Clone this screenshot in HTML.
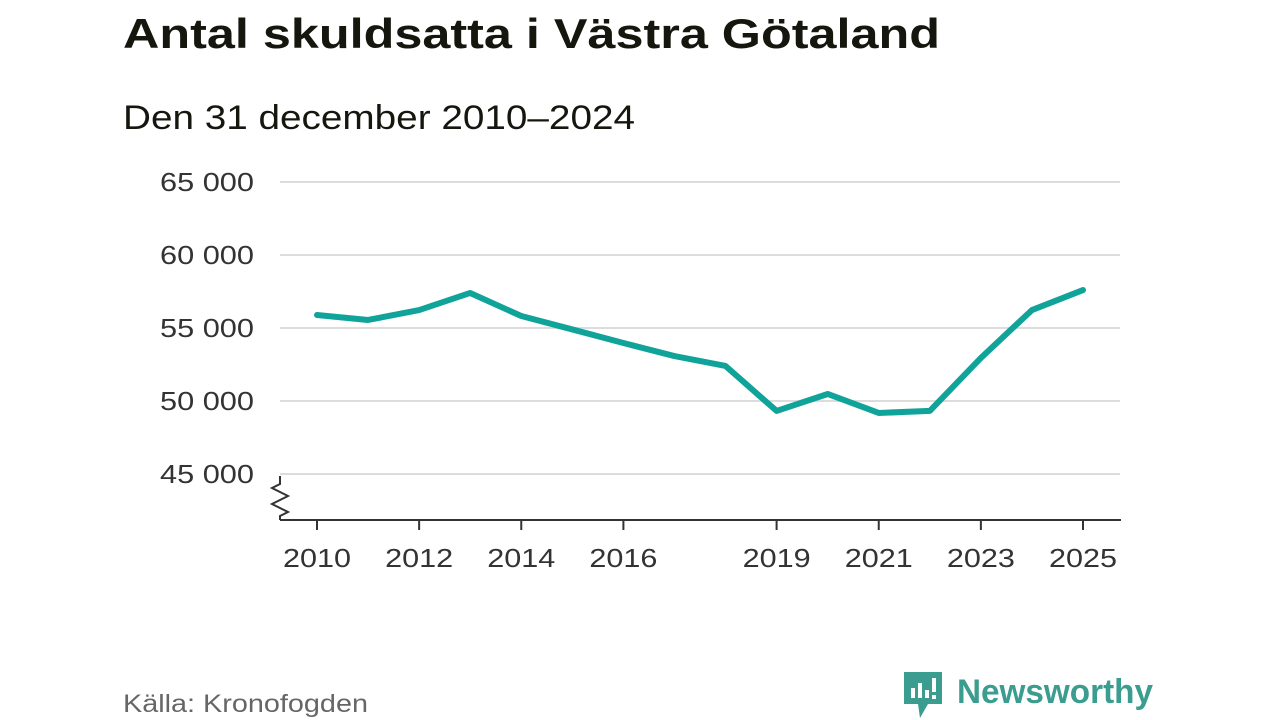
<!DOCTYPE html>
<html><head><meta charset="utf-8">
<style>
html,body{margin:0;padding:0;background:#fff;width:1280px;height:720px;overflow:hidden;font-family:"Liberation Sans","DejaVu Sans",sans-serif;}
</style></head>
<body>
<svg id="chart" width="1280" height="720" viewBox="0 0 1280 720" xmlns="http://www.w3.org/2000/svg">
<text x="123" y="48" font-size="42" font-weight="bold" fill="#15170f" textLength="817" lengthAdjust="spacingAndGlyphs">Antal skuldsatta i Västra Götaland</text>
<text x="123" y="129" font-size="34" fill="#15170f" textLength="512" lengthAdjust="spacingAndGlyphs">Den 31 december 2010–2024</text>
<g id="grid"></g>
<g id="xaxis"></g>
<path d="M280,476 L280,484 L272,488 L288,496 L272,504 L288,512 L280,516 L280,520" fill="none" stroke="#333" stroke-width="2"/>
<path id="line" fill="none" stroke="#10a39a" stroke-width="6" stroke-linejoin="round" stroke-linecap="round"/>
<text x="123" y="712" font-size="25" fill="#666" textLength="245" lengthAdjust="spacingAndGlyphs">Källa: Kronofogden</text>
<g>
<path d="M904,672 h38 v32 h-14 l-8,14 l-2,-14 h-14 z" fill="#3a9d8f"/>
<rect x="911" y="688" width="4" height="10" fill="#fff"/>
<rect x="918" y="683" width="4" height="15" fill="#fff"/>
<rect x="925" y="690" width="4" height="8" fill="#fff"/>
<rect x="932" y="678" width="4" height="14" fill="#fff"/>
<rect x="932" y="695" width="4" height="4" fill="#fff"/>
<text x="957" y="703" font-size="34" font-weight="bold" fill="#3a9d8f" textLength="196" lengthAdjust="spacingAndGlyphs">Newsworthy</text>
</g>
</svg>
<script>
const years=[2010,2011,2012,2013,2014,2015,2016,2017,2018,2019,2020,2021,2022,2023,2024,2025];
const values=[55890,55550,56230,57400,55820,54900,53970,53080,52400,49320,50480,49180,49320,52950,56230,57600];
const yTicks=[45000,50000,55000,60000,65000];
const yTickLabels=["45 000","50 000","55 000","60 000","65 000"];
const xTicks=[2010,2012,2014,2016,2019,2021,2023,2025];
const NS="http://www.w3.org/2000/svg";
function xs(y){return 317+(y-2010)*(1083-317)/15;}
function ys(v){return 474-(v-45000)*(474-182)/20000;}
const grid=document.getElementById('grid');
yTicks.forEach((t,i)=>{
  const l=document.createElementNS(NS,'line');
  
  
  l.setAttribute('x1',280);l.setAttribute('x2',1120);
  l.setAttribute('y1',ys(t));l.setAttribute('y2',ys(t));
  l.setAttribute('stroke','#dcdcdc');l.setAttribute('stroke-width','2');
  grid.appendChild(l);
  const tx=document.createElementNS(NS,'text');
  
  
  tx.setAttribute('x',160);tx.setAttribute('y',ys(t)+9);
  tx.setAttribute('textLength','94');tx.setAttribute('lengthAdjust','spacingAndGlyphs');
  tx.setAttribute('font-size','26');tx.setAttribute('fill','#333');
  tx.textContent=yTickLabels[i];
  grid.appendChild(tx);
});
const xa=document.getElementById('xaxis');
const ax=document.createElementNS(NS,'line');


ax.setAttribute('x1',280);ax.setAttribute('x2',1121);ax.setAttribute('y1',520);ax.setAttribute('y2',520);
ax.setAttribute('stroke','#333');ax.setAttribute('stroke-width','2');
xa.appendChild(ax);
xTicks.forEach(t=>{
  const k=document.createElementNS(NS,'line');
  
  
  k.setAttribute('x1',xs(t));k.setAttribute('x2',xs(t));k.setAttribute('y1',520);k.setAttribute('y2',530);
  k.setAttribute('stroke','#333');k.setAttribute('stroke-width','2');
  xa.appendChild(k);
  const tx=document.createElementNS(NS,'text');
  
  
  tx.setAttribute('x',xs(t)-34);tx.setAttribute('y',567);
  tx.setAttribute('textLength','68');tx.setAttribute('lengthAdjust','spacingAndGlyphs');
  tx.setAttribute('font-size','26');tx.setAttribute('fill','#333');
  tx.textContent=t;
  xa.appendChild(tx);
});
document.getElementById('line').setAttribute('d',years.map((y,i)=>(i?'L':'M')+xs(y)+','+ys(values[i])).join(' '));
</script>
</body></html>
